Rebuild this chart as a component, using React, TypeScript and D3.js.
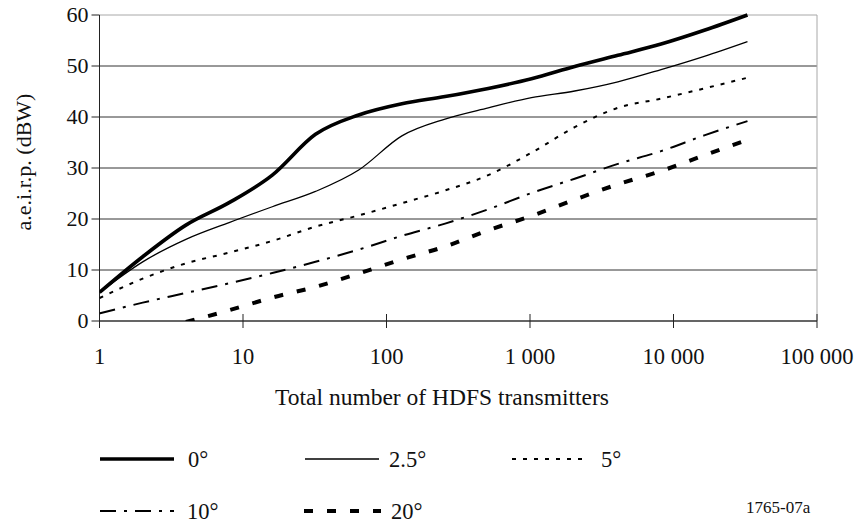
import React from "react";
import * as d3 from "d3";

// Number of HDFS transmitters (powers of two from 1 to 32 768)
const transmitters = [1, 2, 4, 8, 16, 32, 64, 128, 256, 512, 1024, 2048, 4096, 8192, 16384, 32768];

// a.e.i.r.p. (dBW) per elevation angle
const eirp0 = [5.6, 12.6, 18.8, 23.2, 28.6, 36.6, 40.4, 42.6, 44.0, 45.6, 47.5, 49.9, 52.1, 54.3, 57.0, 60.0];
const eirp25 = [5.6, 11.6, 16.0, 19.3, 22.4, 25.4, 29.6, 36.3, 39.6, 41.8, 43.8, 45.1, 46.9, 49.3, 51.9, 54.8];
const eirp5 = [4.5, 8.3, 11.3, 13.4, 15.7, 18.5, 20.7, 23.1, 25.6, 28.6, 33.0, 38.0, 41.8, 43.6, 45.6, 47.7];
const eirp10 = [1.5, 3.6, 5.5, 7.4, 9.4, 11.6, 14.0, 16.7, 19.1, 21.9, 25.1, 27.9, 30.8, 33.3, 36.4, 39.2];
const eirp20 = [null, null, -0.2, 2.1, 4.6, 6.7, 9.3, 12.1, 14.6, 17.8, 20.6, 23.8, 26.8, 29.4, 32.5, 35.5];

const seriesNames = ["0°", "2.5°", "5°", "10°", "20°"];

const xTickValues = [1, 10, 100, 1000, 10000, 100000];
const xTickLabels = ["1", "10", "100", "1 000", "10 000", "100 000"];
const yTickValues = [0, 10, 20, 30, 40, 50, 60];

const xTitle = "Total number of HDFS transmitters";
const yTitle = "a.e.i.r.p. (dBW)";
const figureRef = "1765-07a";

const W = 859;
const H = 524;
const plot = { left: 99.5, right: 817, top: 15, bottom: 321 };
const FONT = "Liberation Serif, DejaVu Serif, serif";

const styles = [
  { width: 3.6, dash: null },
  { width: 1.3, dash: null },
  { width: 2, dash: "4,7" },
  { width: 2, dash: "16,8,3,8" },
  { width: 4, dash: "9,14" },
];

const textStyle = { fontFamily: FONT };

export default function App() {
  const x = d3.scaleLog().domain([1, 100000]).range([plot.left, plot.right]);
  const y = d3.scaleLinear().domain([0, 60]).range([plot.bottom, plot.top]);

  const allSeries = [eirp0, eirp25, eirp5, eirp10, eirp20];

  const line = d3
    .line<[number, number | null]>()
    .defined((d) => d[1] !== null)
    .x((d) => x(d[0]))
    .y((d) => y(d[1] as number))
    .curve(d3.curveMonotoneX);

  const legendItems = [
    { row: 0, x0: 100, x1: 174, tx: 188 },
    { row: 0, x0: 305, x1: 379, tx: 389 },
    { row: 0, x0: 512, x1: 585, tx: 601 },
    { row: 1, x0: 100, x1: 174, tx: 187 },
    { row: 1, x0: 304, x1: 381, tx: 391 },
  ];
  const rowY = [459, 511];

  return (
    <svg
      width={W}
      height={H}
      style={{ position: "absolute", left: 0, top: 0, background: "#fff", fontFamily: FONT }}
    >
      <defs>
        <clipPath id="plot-clip">
          <rect x={plot.left} y={plot.top - 4} width={plot.right - plot.left} height={plot.bottom - plot.top + 4} />
        </clipPath>
      </defs>

      {/* horizontal gridlines */}
      {yTickValues.map((v) => (
        <line
          key={"g" + v}
          x1={plot.left}
          x2={plot.right}
          y1={y(v)}
          y2={y(v)}
          stroke={v === 60 ? "#a8a8a8" : "#333"}
          strokeWidth={1}
        />
      ))}
      {/* right border */}
      <line x1={plot.right} x2={plot.right} y1={plot.top} y2={plot.bottom} stroke="#a8a8a8" strokeWidth={1} />

      {/* y axis */}
      <line x1={plot.left} x2={plot.left} y1={plot.top} y2={plot.bottom + 7} stroke="#222" strokeWidth={1} />
      {yTickValues.map((v) => (
        <g key={"yt" + v}>
          <line x1={plot.left - 8} x2={plot.left} y1={y(v)} y2={y(v)} stroke="#222" />
          <text x={plot.left - 11} y={y(v)} dy="0.34em" textAnchor="end" fontSize={22} fill="#111" style={textStyle}>
            {v}
          </text>
        </g>
      ))}

      {/* x axis */}
      <line x1={plot.left} x2={plot.right} y1={plot.bottom} y2={plot.bottom} stroke="#333" strokeWidth={1.2} />
      {xTickValues.map((v, i) => (
        <g key={"xt" + v}>
          <line x1={x(v)} x2={x(v)} y1={plot.bottom - 7} y2={plot.bottom + 7} stroke="#222" />
          <text x={x(v)} y={364} textAnchor="middle" fontSize={22.5} fill="#111" style={textStyle}>
            {xTickLabels[i]}
          </text>
        </g>
      ))}

      {/* series */}
      <g clipPath="url(#plot-clip)">
        {allSeries.map((s, i) => (
          <path
            key={"s" + i}
            d={line(transmitters.map((n, j) => [n, s[j]]) as [number, number | null][]) || ""}
            fill="none"
            stroke="#000"
            strokeWidth={styles[i].width}
            strokeDasharray={styles[i].dash || undefined}
            strokeLinejoin="round"
          />
        ))}
      </g>

      {/* axis titles */}
      <text x={442} y={405} textAnchor="middle" fontSize={23.5} fill="#111" style={textStyle}>
        {xTitle}
      </text>
      <text
        transform={`translate(31, 162) rotate(-90)`}
        textAnchor="middle"
        fontSize={22}
        fill="#111"
        style={textStyle}
      >
        {yTitle}
      </text>

      {/* legend */}
      {legendItems.map((it, i) => (
        <g key={"lg" + i}>
          <line
            x1={it.x0}
            x2={it.x1}
            y1={rowY[it.row]}
            y2={rowY[it.row]}
            stroke="#000"
            strokeWidth={styles[i].width}
            strokeDasharray={styles[i].dash || undefined}
          />
          <text x={it.tx} y={rowY[it.row]} dy="0.34em" fontSize={22.5} fill="#111" style={textStyle}>
            {seriesNames[i]}
          </text>
        </g>
      ))}

      <text x={746} y={513} fontSize={17} fill="#111" style={textStyle}>
        {figureRef}
      </text>
    </svg>
  );
}
